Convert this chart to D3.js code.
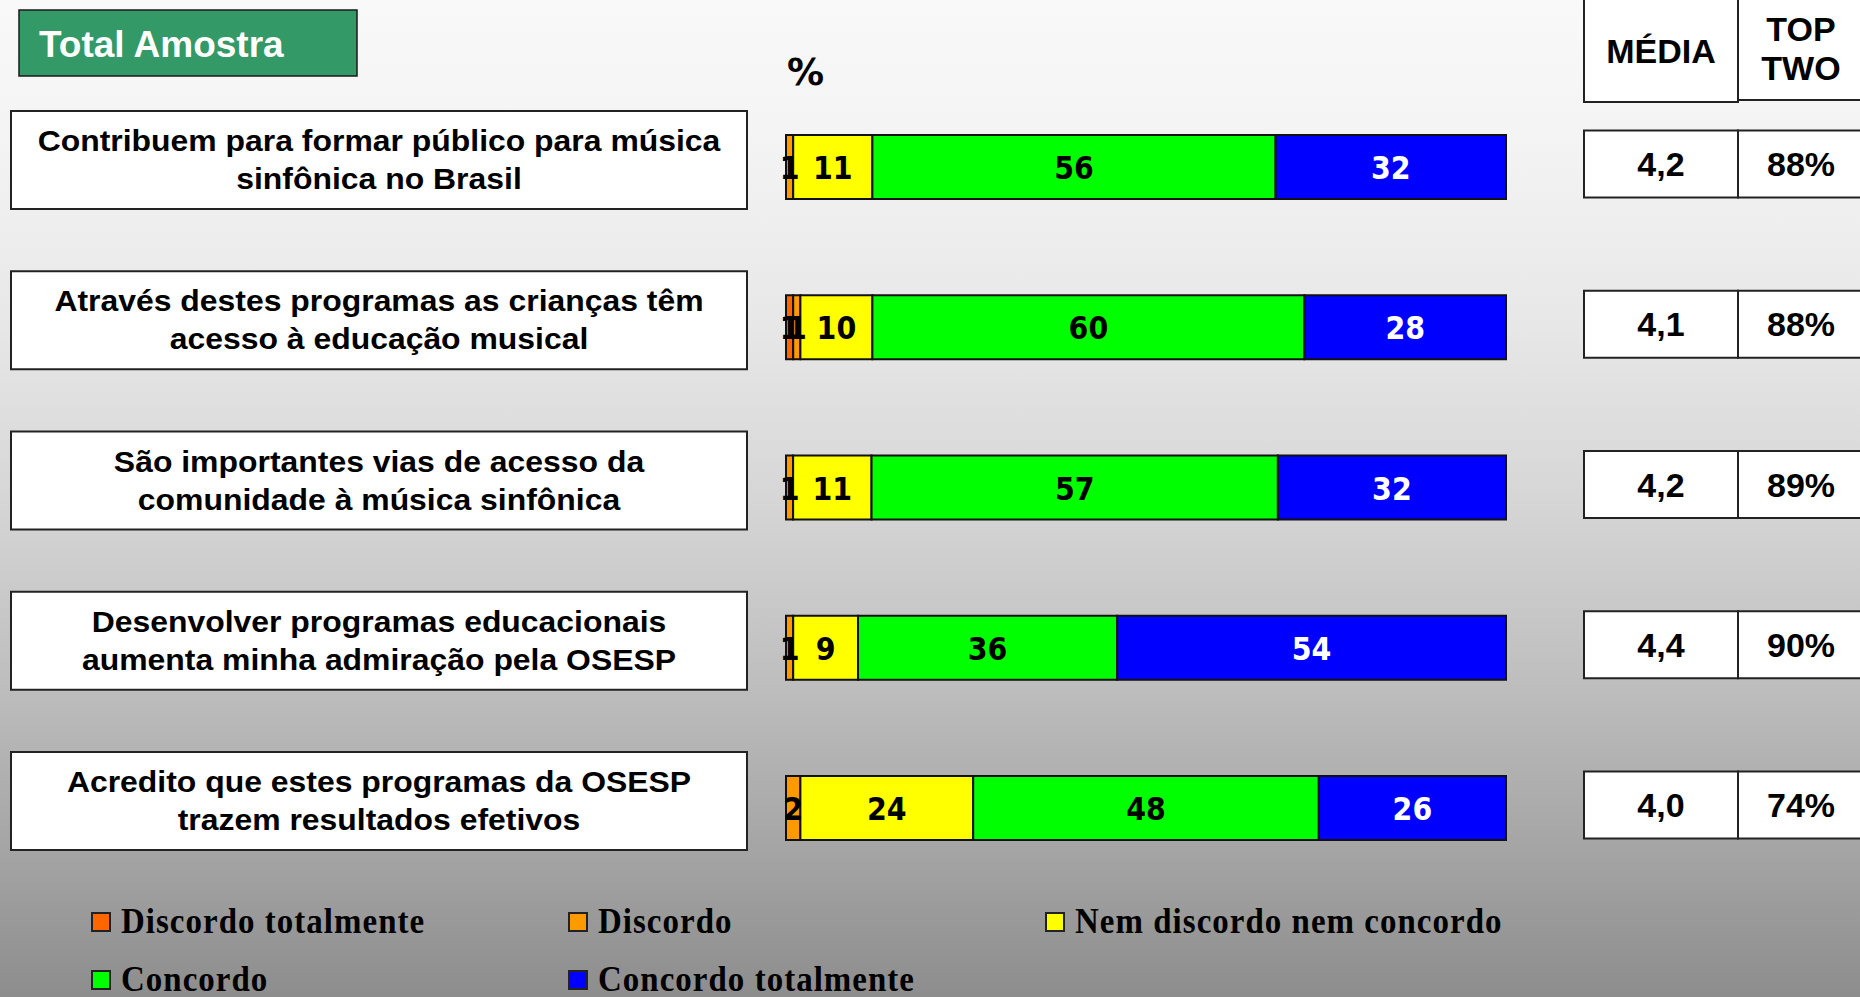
<!DOCTYPE html>
<html>
<head>
<meta charset="utf-8">
<script src="https://cdn.jsdelivr.net/npm/d3@7"></script>
<style>
  html, body { margin: 0; padding: 0; background: #fff; }
  svg { display: block; }
</style>
</head>
<body>
<svg id="chart" width="1860" height="997"></svg>
<script>
// ---------- DATA ----------
const categories = [
  ["Contribuem para formar público para música", "sinfônica no Brasil"],
  ["Através destes programas as crianças têm", "acesso à educação musical"],
  ["São importantes vias de acesso da", "comunidade à música sinfônica"],
  ["Desenvolver programas educacionais", "aumenta minha admiração pela OSESP"],
  ["Acredito que estes programas da OSESP", "trazem resultados efetivos"]
];
const seriesNames = ["Discordo totalmente", "Discordo", "Nem discordo nem concordo", "Concordo", "Concordo totalmente"];
const discordoTotalmente = [0, 1, 0, 0, 0];
const discordo = [1, 1, 1, 1, 2];
const nemDiscordoNemConcordo = [11, 10, 11, 9, 24];
const concordo = [56, 60, 57, 36, 48];
const concordoTotalmente = [32, 28, 32, 54, 26];
const media = ["4,2", "4,1", "4,2", "4,4", "4,0"];
const topTwo = ["88%", "88%", "89%", "90%", "74%"];
const seriesColors = ["#ff6600", "#ff9900", "#ffff00", "#00ff00", "#0000ff"];
const labelColors = ["#000", "#000", "#000", "#000", "#fff"];

// ---------- SETUP ----------
const W = 1860, H = 997;
const svg = d3.select("#chart");

const defs = svg.append("defs");
const grad = defs.append("linearGradient").attr("id", "bg").attr("x1", 0).attr("y1", 0).attr("x2", 0).attr("y2", 1);
[[0, "#f9f9f9"], [0.15, "#f3f3f3"], [0.33, "#e7e7e7"], [0.5, "#d6d6d6"], [0.67, "#c0c0c0"], [0.83, "#a8a8a8"], [1, "#8d8d8d"]]
  .forEach(([o, c]) => grad.append("stop").attr("offset", o).attr("stop-color", c));
svg.append("rect").attr("width", W).attr("height", H).attr("fill", "url(#bg)");

const seriesData = [discordoTotalmente, discordo, nemDiscordoNemConcordo, concordo, concordoTotalmente];
const rows = categories.map((c, i) => {
  const vals = seriesData.map(s => s[i]);
  return { i, label: c, vals, total: d3.sum(vals) };
});

const y = d3.scalePoint().domain(d3.range(rows.length)).range([167, 808]);
const barH = 64;
const barX0 = 786, barX1 = 1506;

// ---------- TITLE ----------
svg.append("rect").attr("x", 19).attr("y", 10).attr("width", 338).attr("height", 66)
  .attr("fill", "#339966").attr("stroke", "#1a1a1a").attr("stroke-width", 1.5);
svg.append("text").attr("x", 39).attr("y", 57).text("Total Amostra")
  .attr("font-family", "Liberation Sans, Arial, sans-serif").attr("font-weight", "bold")
  .attr("font-size", 37).attr("fill", "#fff");

// "%" label
svg.append("text").attr("x", 787).attr("y", 85).text("%")
  .attr("font-family", "DejaVu Sans, Verdana, sans-serif").attr("font-weight", "bold")
  .attr("font-size", 37).attr("fill", "#000");

// ---------- CATEGORY LABEL BOXES ----------
const lab = svg.append("g");
rows.forEach(r => {
  const cy = y(r.i) - 7;
  lab.append("rect").attr("x", 11).attr("y", cy - 49).attr("width", 736).attr("height", 98)
    .attr("fill", "#fff").attr("stroke", "#222").attr("stroke-width", 2);
  r.label.forEach((line, k) => {
    lab.append("text")
      .attr("transform", `translate(379,${cy + (k === 0 ? -9 : 29)}) scale(1.12,1.03)`)
      .attr("text-anchor", "middle")
      .attr("font-family", "Liberation Sans, Arial, sans-serif").attr("font-weight", "bold")
      .attr("font-size", 28.5).attr("fill", "#000").text(line);
  });
});

// ---------- BARS ----------
const barsG = svg.append("g");
rows.forEach(r => {
  const x = d3.scaleLinear().domain([0, r.total]).range([barX0, barX1]);
  const stacked = [];
  let acc = 0;
  r.vals.forEach((v, s) => { stacked.push({ s, v, x0: acc, x1: acc + v }); acc += v; });
  const g = barsG.append("g");
  g.selectAll("rect").data(stacked.filter(d => d.v > 0)).join("rect")
    .attr("x", d => x(d.x0)).attr("width", d => x(d.x1) - x(d.x0))
    .attr("y", y(r.i) - barH / 2).attr("height", barH)
    .attr("fill", d => seriesColors[d.s]).attr("stroke", "#111").attr("stroke-width", 2);
  g.selectAll("text").data(stacked.filter(d => d.v > 0)).join("text")
    .attr("transform", d => `translate(${(x(d.x0) + x(d.x1)) / 2},${y(r.i) + 12}) scale(0.95,1.08)`)
    .attr("text-anchor", "middle")
    .attr("font-family", "DejaVu Sans, Verdana, sans-serif").attr("font-weight", "bold")
    .attr("font-size", 30).attr("fill", d => labelColors[d.s]).text(d => d.v);
});

// ---------- TABLE ----------
const tg = svg.append("g");
const c1x = 1584, c2x = 1738, c3x = 1862;
const font = "Liberation Sans, Arial, sans-serif";
tg.append("rect").attr("x", c1x).attr("y", -3).attr("width", c2x - c1x).attr("height", 105)
  .attr("fill", "#fff").attr("stroke", "#222").attr("stroke-width", 2);
tg.append("rect").attr("x", c2x).attr("y", -3).attr("width", c3x - c2x).attr("height", 103)
  .attr("fill", "#fff").attr("stroke", "#222").attr("stroke-width", 2);
tg.append("text").attr("x", (c1x + c2x) / 2).attr("y", 63).attr("text-anchor", "middle")
  .attr("font-family", font).attr("font-weight", "bold").attr("font-size", 34).text("MÉDIA");
tg.append("text").attr("x", 1801).attr("y", 41).attr("text-anchor", "middle")
  .attr("font-family", font).attr("font-weight", "bold").attr("font-size", 34).text("TOP");
tg.append("text").attr("x", 1801).attr("y", 80).attr("text-anchor", "middle")
  .attr("font-family", font).attr("font-weight", "bold").attr("font-size", 34).text("TWO");

rows.forEach(r => {
  const cy = y(r.i) - 3;
  tg.append("rect").attr("x", c1x).attr("y", cy - 33.5).attr("width", c2x - c1x).attr("height", 67)
    .attr("fill", "#fff").attr("stroke", "#222").attr("stroke-width", 2);
  tg.append("rect").attr("x", c2x).attr("y", cy - 33.5).attr("width", c3x - c2x).attr("height", 67)
    .attr("fill", "#fff").attr("stroke", "#222").attr("stroke-width", 2);
  tg.append("text").attr("x", (c1x + c2x) / 2).attr("y", cy + 12).attr("text-anchor", "middle")
    .attr("font-family", font).attr("font-weight", "bold").attr("font-size", 34).text(media[r.i]);
  tg.append("text").attr("x", 1801).attr("y", cy + 12).attr("text-anchor", "middle")
    .attr("font-family", font).attr("font-weight", "bold").attr("font-size", 34).text(topTwo[r.i]);
});

// ---------- LEGEND ----------
const legendPos = [[92, 913], [569, 913], [1046, 913], [92, 971], [569, 971]];
const lg = svg.append("g");
seriesNames.forEach((name, s) => {
  const [lx, ly] = legendPos[s];
  lg.append("rect").attr("x", lx).attr("y", ly).attr("width", 18).attr("height", 18)
    .attr("fill", seriesColors[s]).attr("stroke", "#222").attr("stroke-width", 2);
  lg.append("text").attr("transform", `translate(${lx + 29},${ly + 20}) scale(1.03,1.12)`)
    .attr("font-family", "Liberation Serif, Times New Roman, serif").attr("font-weight", "bold")
    .attr("font-size", 32).attr("letter-spacing", 1).attr("fill", "#000").text(name);
});
</script>
</body>
</html>
